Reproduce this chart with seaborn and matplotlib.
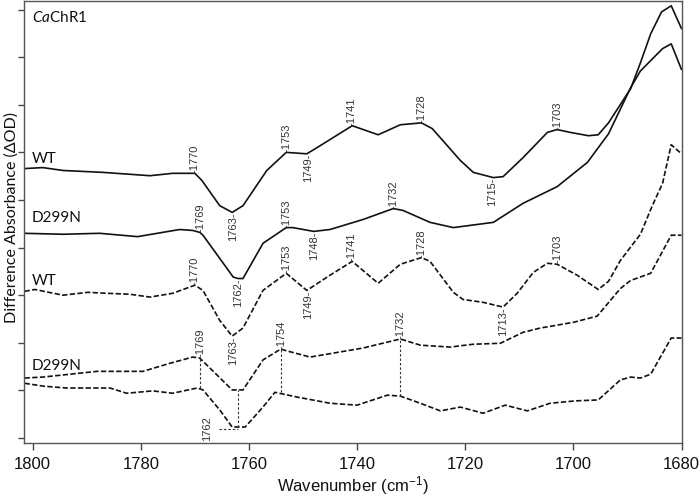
import matplotlib
matplotlib.use("Agg")
import matplotlib.pyplot as plt
import seaborn as sns
import pandas as pd

# WT, solid trace (top)
wt_a_wn = [1801.5, 1798.1, 1794.4, 1787.0, 1778.3, 1774.1, 1770.0, 1768.7, 1765.4, 1763.1,
           1761.1, 1756.7, 1753.1, 1749.3, 1747.4, 1740.9, 1736.1, 1732.0, 1728.1, 1726.1,
           1720.9, 1718.5, 1714.8, 1713.0, 1709.3, 1704.8, 1703.0, 1700.6, 1697.2, 1695.4,
           1693.5, 1689.4, 1687.6, 1685.7, 1683.7, 1681.9, 1680.0]
wt_a_od = [5.66, 5.68, 5.62, 5.58, 5.51, 5.56, 5.56, 5.41, 4.88, 4.74,
           4.88, 5.62, 6.00, 5.97, 6.10, 6.56, 6.37, 6.58, 6.62, 6.50,
           5.83, 5.58, 5.47, 5.49, 5.89, 6.42, 6.48, 6.42, 6.35, 6.37,
           6.62, 7.34, 7.88, 8.49, 8.95, 9.08, 8.60]

# D299N, solid trace
mut_a_wn = [1801.5, 1794.4, 1787.6, 1780.6, 1772.8, 1770.4, 1769.1, 1768.5, 1762.9, 1762.0,
            1761.1, 1757.4, 1753.1, 1751.9, 1748.0, 1745.0, 1738.9, 1733.3, 1731.5, 1726.5,
            1722.2, 1714.8, 1709.3, 1703.0, 1697.4, 1693.5, 1689.4, 1687.6, 1683.5, 1681.9,
            1680.0]
mut_a_od = [4.30, 4.28, 4.30, 4.23, 4.38, 4.36, 4.32, 4.26, 3.38, 3.35,
            3.35, 4.09, 4.42, 4.42, 4.34, 4.38, 4.59, 4.82, 4.78, 4.53,
            4.42, 4.53, 4.93, 5.28, 5.79, 6.39, 7.36, 7.71, 8.18, 8.28,
            7.74]

# WT, dashed trace
wt_b_wn = [1801.5, 1799.6, 1794.4, 1789.8, 1786.3, 1782.0, 1778.3, 1774.1, 1770.0, 1768.5,
           1765.4, 1763.1, 1761.1, 1757.4, 1753.1, 1749.3, 1745.0, 1740.9, 1736.1, 1732.0,
           1728.1, 1726.5, 1722.2, 1720.4, 1716.7, 1713.0, 1710.4, 1707.4, 1704.8, 1703.0,
           1699.3, 1695.4, 1693.5, 1691.3, 1687.6, 1685.4, 1683.5, 1681.9, 1680.0]
wt_b_od = [3.08, 3.12, 3.00, 3.06, 3.04, 3.02, 2.96, 3.04, 3.21, 3.10,
           2.47, 2.14, 2.31, 3.10, 3.46, 3.10, 3.42, 3.71, 3.25, 3.65,
           3.79, 3.71, 3.06, 2.91, 2.85, 2.75, 3.04, 3.48, 3.67, 3.65,
           3.42, 3.12, 3.29, 3.73, 4.28, 4.88, 5.35, 6.16, 5.97]

# D299N, dashed traces (upper and lower)
mut_b_wn = [1801.5, 1798.1, 1788.1, 1779.6, 1774.6, 1770.4, 1769.1, 1763.1, 1761.1, 1757.4,
            1754.1, 1753.3, 1748.7, 1738.9, 1732.0, 1728.3, 1722.8, 1718.5, 1713.5, 1709.3,
            1706.1, 1700.0, 1695.6, 1691.3, 1689.4, 1685.7, 1681.9, 1680.0]
mut_b_od = [1.26, 1.28, 1.40, 1.40, 1.57, 1.70, 1.68, 1.01, 1.01, 1.64,
            1.87, 1.84, 1.70, 1.89, 2.08, 1.95, 1.91, 1.97, 1.99, 2.22,
            2.31, 2.43, 2.56, 3.14, 3.31, 3.46, 4.26, 4.26]

mut_c_wn = [1801.5, 1798.1, 1793.7, 1785.7, 1782.6, 1777.8, 1774.1, 1769.6, 1768.5, 1765.4,
            1763.1, 1760.7, 1757.4, 1755.2, 1751.1, 1745.0, 1740.0, 1734.4, 1732.0, 1728.3,
            1724.6, 1720.9, 1716.7, 1712.6, 1708.5, 1704.3, 1699.6, 1695.4, 1691.3, 1689.4,
            1687.6, 1685.7, 1681.9, 1680.0]
mut_c_od = [1.15, 1.09, 1.05, 1.05, 0.94, 0.99, 0.94, 1.05, 1.01, 0.59,
            0.23, 0.23, 0.65, 0.96, 0.86, 0.73, 0.69, 0.90, 0.88, 0.73,
            0.57, 0.65, 0.52, 0.69, 0.57, 0.73, 0.78, 0.80, 1.22, 1.28,
            1.26, 1.34, 2.10, 2.10]

# band labels: text, position, height, above/below the trace
band_text = ["-1770", "1763-", "-1753", "1749-", "-1741", "-1728", "1715-", "-1703",
             "-1769", "1762-", "-1753", "1748-", "-1732",
             "-1770", "1763-", "-1753", "1749-", "-1741", "-1728", "1713-", "-1703",
             "-1769", "-1754", "-1732"]
band_wn = [1770, 1763, 1753, 1749, 1741, 1728, 1715, 1703,
           1769, 1762, 1753, 1748, 1733.3,
           1770, 1763, 1753, 1749, 1741, 1728, 1713, 1703,
           1769, 1754, 1732]
band_od = [5.56, 4.74, 6.00, 5.97, 6.56, 6.62, 5.47, 6.48,
           4.32, 3.35, 4.42, 4.34, 4.82,
           3.21, 2.14, 3.46, 3.10, 3.71, 3.79, 2.75, 3.67,
           1.70, 1.87, 2.08]
band_up = [True, False, True, False, True, True, False, True,
           True, False, True, False, True,
           True, False, True, False, True, True, False, True,
           True, True, True]

# dotted connectors between the two dashed D299N traces
link_wn = [1769, 1762, 1754, 1732]
link_top = [1.68, 1.01, 1.87, 2.08]
link_bottom = [1.05, 0.23, 0.96, 0.88]

trace_names = ["WT", "D299N", "WT", "D299N"]
trace_name_od = [5.77, 4.53, 3.21, 1.43]

sns.set_style("ticks")
plt.rcParams["font.family"] = ["Liberation Sans", "DejaVu Sans"]
plt.rcParams["mathtext.fontset"] = "custom"
plt.rcParams["mathtext.it"] = "Lato:italic"
plt.rcParams["mathtext.rm"] = "Lato"

fig = plt.figure(figsize=(7.0, 4.96), dpi=100)
ax = fig.add_axes([24 / 700, 53 / 496, 657.5 / 700, 442 / 496])

ink = "#111111"
solid_kw = dict(color=ink, linewidth=1.2, sort=False, estimator=None)
dash_kw = dict(color=ink, linewidth=1.2, sort=False, estimator=None, linestyle=(0, (3.2, 1.4)))

sns.lineplot(x=wt_a_wn, y=wt_a_od, ax=ax, **solid_kw)
sns.lineplot(x=mut_a_wn, y=mut_a_od, ax=ax, **solid_kw)
sns.lineplot(x=wt_b_wn, y=wt_b_od, ax=ax, **dash_kw)
sns.lineplot(x=mut_b_wn, y=mut_b_od, ax=ax, **dash_kw)
sns.lineplot(x=mut_c_wn, y=mut_c_od, ax=ax, **dash_kw)

ax.vlines(link_wn, link_bottom, link_top, colors="#333333", linewidth=0.8,
          linestyles=(0, (2.2, 1.8)))
ax.hlines(0.19, 1765.6, 1762, colors="#333333", linewidth=0.8, linestyles=(0, (2.2, 1.8)))

for t, w, v, up in zip(band_text, band_wn, band_od, band_up):
    ax.text(w, v, t, rotation=90, ha="center", va="bottom" if up else "top",
            fontsize=8, color="#333333")
ax.text(1767.8, 0.20, "1762", rotation=90, ha="center", va="center",
        fontsize=8, color="#333333")

for name, v in zip(trace_names, trace_name_od):
    ax.text(1800.2, v, name, ha="left", va="baseline", fontsize=11,
            color=ink, family=["Lato", "DejaVu Sans"])
ax.text(1800.2, 8.74, r"$\mathit{Ca}$ChR1", ha="left", va="baseline", fontsize=11,
        color=ink, family=["Lato", "DejaVu Sans"])

ax.set_xlim(1801.6, 1680)
ax.set_ylim(-0.105, 9.18)
ax.set_xticks([1800, 1780, 1760, 1740, 1720, 1700, 1680])
ax.set_yticks(range(10))
ax.set_yticklabels([])
ax.tick_params(axis="x", direction="out", length=5, width=1, color="#444444",
               labelsize=12, pad=5, labelcolor=ink)
ax.tick_params(axis="y", direction="out", length=4.5, width=1, color="#444444")
for s in ax.spines.values():
    s.set_visible(True)
    s.set_color("#555555")
    s.set_linewidth(1.0)

ax.set_xlabel(r"Wavenumber (cm$^{\mathregular{-1}}$)", fontsize=12, color=ink)
ax.xaxis.label.set_va("baseline")
ax.xaxis.set_label_coords(0.5, -48 / 442)
ax.set_ylabel("Difference Absorbance (ΔOD)", fontsize=11.5, color=ink,
              family=["Lato", "DejaVu Sans"])
ax.yaxis.label.set_va("center")
ax.yaxis.set_label_coords(-12 / 657.5, 0.51)

fig.savefig("out.png", dpi=100)
